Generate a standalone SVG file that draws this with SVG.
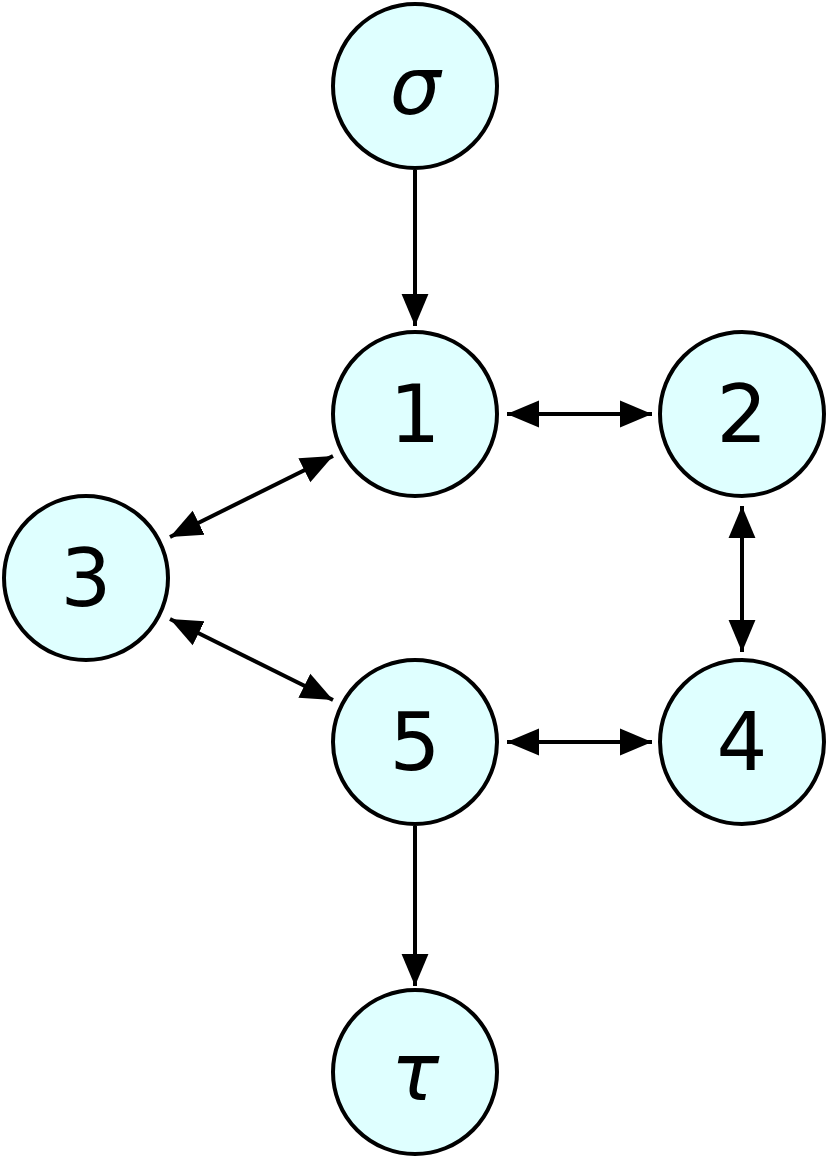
<svg xmlns="http://www.w3.org/2000/svg" width="830" height="1161" viewBox="0 0 830 1161">
<style>
.n circle{fill:#dfffff;stroke:#000;stroke-width:4}
.n text{font-family:"DejaVu Sans",sans-serif;font-size:80px;text-anchor:middle;dominant-baseline:central;fill:#000}
.e line{stroke:#000;stroke-width:4}
</style>
<defs>
<marker id="a" viewBox="0 0 10 10" refX="10" refY="5" markerWidth="8" markerHeight="8" markerUnits="strokeWidth" orient="auto-start-reverse"><path d="M0,0.8 L10,5 L0,9.2 z" fill="#000"/></marker>
</defs>
<g class="e">
<line x1="415" y1="170" x2="415" y2="326" marker-end="url(#a)"/>
<line x1="507" y1="414" x2="652" y2="414" marker-start="url(#a)" marker-end="url(#a)"/>
<line x1="742" y1="506" x2="742" y2="652" marker-start="url(#a)" marker-end="url(#a)"/>
<line x1="507" y1="742" x2="652" y2="742" marker-start="url(#a)" marker-end="url(#a)"/>
<line x1="170" y1="537" x2="333" y2="456" marker-start="url(#a)" marker-end="url(#a)"/>
<line x1="170" y1="619" x2="333" y2="700" marker-start="url(#a)" marker-end="url(#a)"/>
<line x1="415" y1="826" x2="415" y2="986" marker-end="url(#a)"/>
</g>
<g id="sigma" class="n"><circle cx="415" cy="86" r="82"/><text x="415" y="86" font-style="italic">σ</text></g>
<g id="n1" class="n"><circle cx="415" cy="414" r="82"/><text x="415" y="414">1</text></g>
<g id="n2" class="n"><circle cx="742" cy="414" r="82"/><text x="742" y="414">2</text></g>
<g id="n3" class="n"><circle cx="86" cy="578" r="82"/><text x="86" y="578">3</text></g>
<g id="n5" class="n"><circle cx="415" cy="742" r="82"/><text x="415" y="742">5</text></g>
<g id="n4" class="n"><circle cx="742" cy="742" r="82"/><text x="742" y="742">4</text></g>
<g id="tau" class="n"><circle cx="415" cy="1072" r="82"/><text x="415" y="1072" font-style="italic">τ</text></g>
</svg>
